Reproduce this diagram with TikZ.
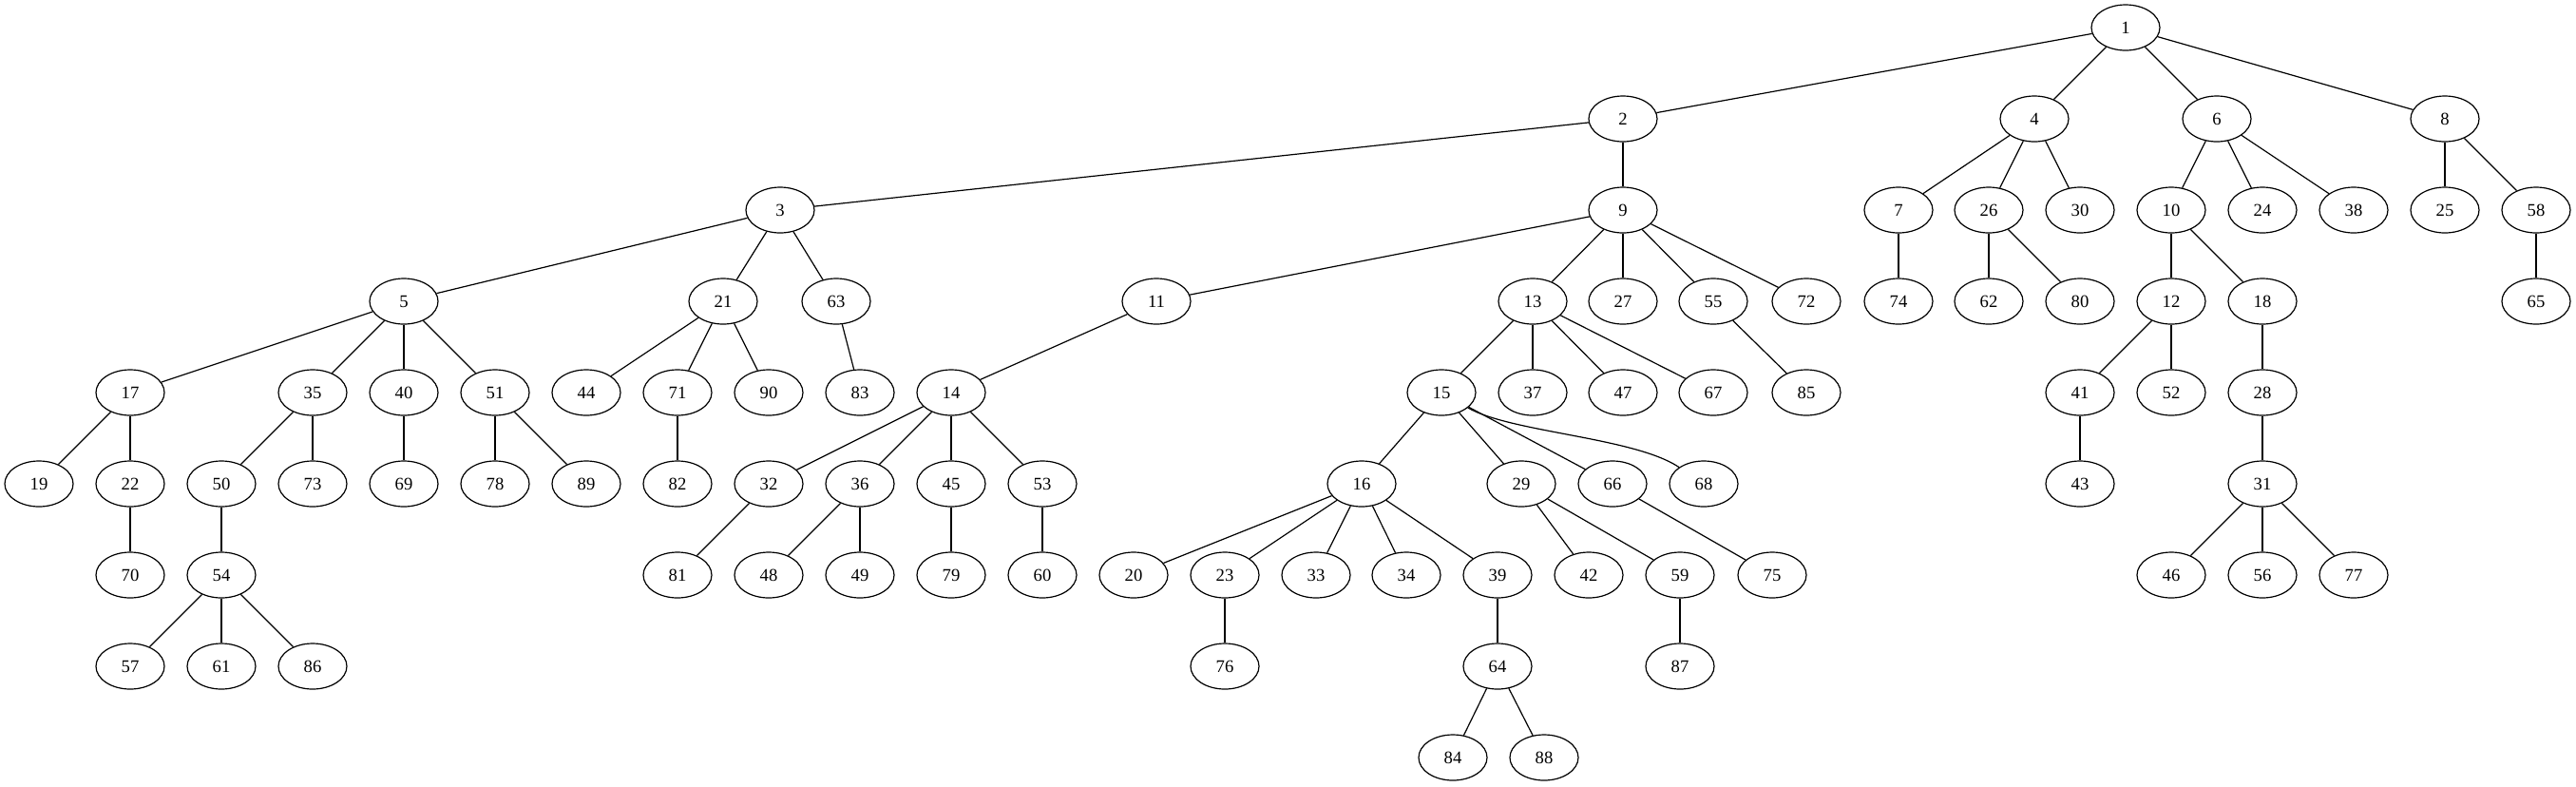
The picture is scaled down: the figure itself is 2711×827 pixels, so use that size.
\documentclass[tikz,border=0pt]{standalone}
\usepackage{fontspec}
\setmainfont{Liberation Serif}
\usetikzlibrary{shapes.geometric}
\tikzset{
  vtx/.style={draw, ellipse, minimum width=36pt, minimum height=24pt, inner sep=0pt, line width=0.6pt, font=\fontsize{9.33}{11}\selectfont},
  edge/.style={line width=0.6pt}
}
\begin{document}
\begin{tikzpicture}[x=0.5pt,y=-0.5pt]
\useasboundingbox (0,0) rectangle (2711,827);
% row 0
\node[vtx] (n1) at (2237,29) {1};
% row 1
\node[vtx] (n2) at (1708,125) {2};
\node[vtx] (n4) at (2141,125) {4};
\node[vtx] (n6) at (2333,125) {6};
\node[vtx] (n8) at (2573,125) {8};
% row 2
\node[vtx] (n3) at (821,221) {3};
\node[vtx] (n9) at (1708,221) {9};
\node[vtx] (n7) at (1998,221) {7};
\node[vtx] (n26) at (2093,221) {26};
\node[vtx] (n30) at (2189,221) {30};
\node[vtx] (n10) at (2285,221) {10};
\node[vtx] (n24) at (2381,221) {24};
\node[vtx] (n38) at (2477,221) {38};
\node[vtx] (n25) at (2573,221) {25};
\node[vtx] (n58) at (2669,221) {58};
% row 3
\node[vtx] (n5) at (425,317) {5};
\node[vtx] (n21) at (761,317) {21};
\node[vtx] (n63) at (880,317) {63};
\node[vtx] (n11) at (1217,317) {11};
\node[vtx] (n13) at (1613,317) {13};
\node[vtx] (n27) at (1708,317) {27};
\node[vtx] (n55) at (1803,317) {55};
\node[vtx] (n72) at (1901,317) {72};
\node[vtx] (n74) at (1998,317) {74};
\node[vtx] (n62) at (2093,317) {62};
\node[vtx] (n80) at (2189,317) {80};
\node[vtx] (n12) at (2285,317) {12};
\node[vtx] (n18) at (2381,317) {18};
\node[vtx] (n65) at (2669,317) {65};
% row 4
\node[vtx] (n17) at (137,413) {17};
\node[vtx] (n35) at (329,413) {35};
\node[vtx] (n40) at (425,413) {40};
\node[vtx] (n51) at (521,413) {51};
\node[vtx] (n44) at (617,413) {44};
\node[vtx] (n71) at (713,413) {71};
\node[vtx] (n90) at (809,413) {90};
\node[vtx] (n83) at (905,413) {83};
\node[vtx] (n14) at (1001,413) {14};
\node[vtx] (n15) at (1517,413) {15};
\node[vtx] (n37) at (1613,413) {37};
\node[vtx] (n47) at (1708,413) {47};
\node[vtx] (n67) at (1803,413) {67};
\node[vtx] (n85) at (1901,413) {85};
\node[vtx] (n41) at (2189,413) {41};
\node[vtx] (n52) at (2285,413) {52};
\node[vtx] (n28) at (2381,413) {28};
% row 5
\node[vtx] (n19) at (41,509) {19};
\node[vtx] (n22) at (137,509) {22};
\node[vtx] (n50) at (233,509) {50};
\node[vtx] (n73) at (329,509) {73};
\node[vtx] (n69) at (425,509) {69};
\node[vtx] (n78) at (521,509) {78};
\node[vtx] (n89) at (617,509) {89};
\node[vtx] (n82) at (713,509) {82};
\node[vtx] (n32) at (809,509) {32};
\node[vtx] (n36) at (905,509) {36};
\node[vtx] (n45) at (1001,509) {45};
\node[vtx] (n53) at (1097,509) {53};
\node[vtx] (n16) at (1433,509) {16};
\node[vtx] (n29) at (1601,509) {29};
\node[vtx] (n66) at (1697,509) {66};
\node[vtx] (n68) at (1793,509) {68};
\node[vtx] (n43) at (2189,509) {43};
\node[vtx] (n31) at (2381,509) {31};
% row 6
\node[vtx] (n70) at (137,605) {70};
\node[vtx] (n54) at (233,605) {54};
\node[vtx] (n81) at (713,605) {81};
\node[vtx] (n48) at (809,605) {48};
\node[vtx] (n49) at (905,605) {49};
\node[vtx] (n79) at (1001,605) {79};
\node[vtx] (n60) at (1097,605) {60};
\node[vtx] (n20) at (1193,605) {20};
\node[vtx] (n23) at (1289,605) {23};
\node[vtx] (n33) at (1385,605) {33};
\node[vtx] (n34) at (1480,605) {34};
\node[vtx] (n39) at (1576,605) {39};
\node[vtx] (n42) at (1672,605) {42};
\node[vtx] (n59) at (1768,605) {59};
\node[vtx] (n75) at (1865,605) {75};
\node[vtx] (n46) at (2285,605) {46};
\node[vtx] (n56) at (2381,605) {56};
\node[vtx] (n77) at (2477,605) {77};
% row 7
\node[vtx] (n57) at (137,701) {57};
\node[vtx] (n61) at (233,701) {61};
\node[vtx] (n86) at (329,701) {86};
\node[vtx] (n76) at (1289,701) {76};
\node[vtx] (n64) at (1576,701) {64};
\node[vtx] (n87) at (1768,701) {87};
% row 8
\node[vtx] (n84) at (1529,797) {84};
\node[vtx] (n88) at (1625,797) {88};
% edges
\foreach \a/\b in {1/2,1/4,1/6,1/8,2/3,2/9,4/7,4/26,4/30,6/10,6/24,6/38,8/25,8/58,
  3/5,3/21,3/63,9/11,9/13,9/27,9/55,9/72,7/74,26/62,26/80,10/12,10/18,58/65,
  5/17,5/35,5/40,5/51,21/44,21/71,21/90,63/83,11/14,13/15,13/37,13/47,13/67,55/85,
  12/41,12/52,18/28,17/19,17/22,35/50,35/73,40/69,51/78,51/89,71/82,
  14/32,14/36,14/45,14/53,15/16,15/29,15/66,41/43,28/31,22/70,50/54,32/81,
  36/48,36/49,45/79,53/60,16/20,16/23,16/33,16/34,16/39,29/42,29/59,66/75,
  31/46,31/56,31/77,54/57,54/61,54/86,23/76,39/64,59/87,64/84,64/88}
  \draw[edge] (n\a) -- (n\b);
\draw[edge] (n15) .. controls (1590,455) and (1720,460) .. (n68);
\end{tikzpicture}
\end{document}
